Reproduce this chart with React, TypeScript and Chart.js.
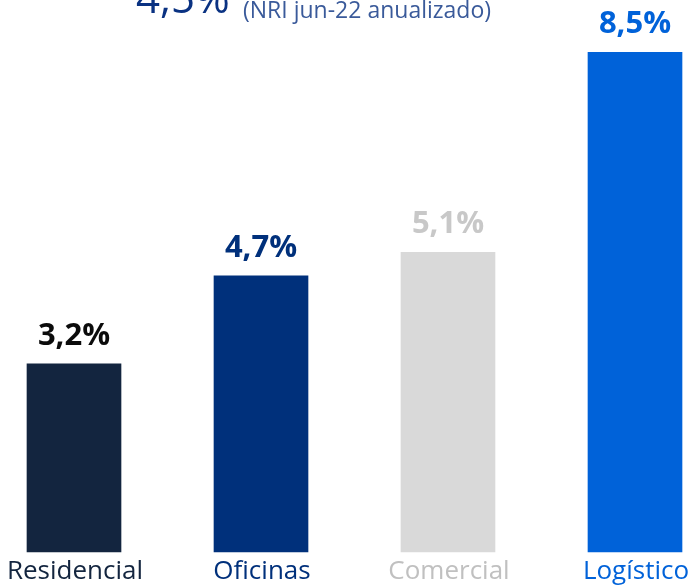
import React, { useEffect, useRef } from "react";
import { Chart, registerables } from "chart.js";

Chart.register(...registerables);

const categories = ["Residencial", "Oficinas", "Comercial", "Logístico"];
const values = [3.2, 4.7, 5.1, 8.5];
const valueLabels = ["3,2%", "4,7%", "5,1%", "8,5%"];
const barColors = ["#13253f", "#00307b", "#d9d9d9", "#0062d9"];
const valueLabelColors = ["#0b0b0b", "#00307b", "#c8c8c8", "#0062d9"];
const categoryLabelColors = ["#13253f", "#00307b", "#c0c0c0", "#0062d9"];
const headline = "4,5%";
const headlineNote = "(NRI jun-22 anualizado)";

const FONT = "'Open Sans', 'Noto Sans', sans-serif";

const labelPlugin = {
  id: "labelPlugin",
  afterDatasetsDraw(chart: any) {
    const ctx = chart.ctx;
    const meta = chart.getDatasetMeta(0);
    const bottom = chart.chartArea.bottom;
    ctx.save();
    ctx.textAlign = "center";
    ctx.textBaseline = "alphabetic";
    meta.data.forEach((bar: any, i: number) => {
      ctx.font = `bold 31px ${FONT}`;
      ctx.fillStyle = valueLabelColors[i];
      ctx.fillText(valueLabels[i], bar.x, bar.y - 19);
      ctx.font = `26px ${FONT}`;
      ctx.fillStyle = categoryLabelColors[i];
      ctx.fillText(categories[i], bar.x + 1, bottom + 27);
    });
    ctx.textAlign = "left";
    ctx.font = `42px ${FONT}`;
    ctx.fillStyle = "#0a3282";
    ctx.fillText(headline, 136, 13);
    ctx.font = `23px ${FONT}`;
    ctx.fillStyle = "#3a5a9a";
    ctx.fillText(headlineNote, 243, 18);
    ctx.restore();
  },
};

export default function App() {
  const ref = useRef<HTMLCanvasElement>(null);
  useEffect(() => {
    const chart = new Chart(ref.current!, {
      type: "bar",
      data: {
        labels: categories,
        datasets: [
          {
            data: values,
            backgroundColor: barColors,
            borderWidth: 0,
            barThickness: 94,
            clip: false as any,
          },
        ],
      },
      options: {
        animation: false,
        responsive: false,
        maintainAspectRatio: false,
        layout: { padding: { top: 23, bottom: 35, left: 74, right: 59 } },
        plugins: { legend: { display: false }, tooltip: { enabled: false } },
        scales: {
          x: { display: false, offset: false },
          y: { display: false, min: 0, max: 9 },
        },
      },
      plugins: [labelPlugin],
    });
    return () => chart.destroy();
  }, []);
  return (
    <div style={{ position: "absolute", left: 0, top: 0, width: 694, height: 587 }}>
      <canvas ref={ref} width={694} height={587} style={{ display: "block" }} />
    </div>
  );
}
